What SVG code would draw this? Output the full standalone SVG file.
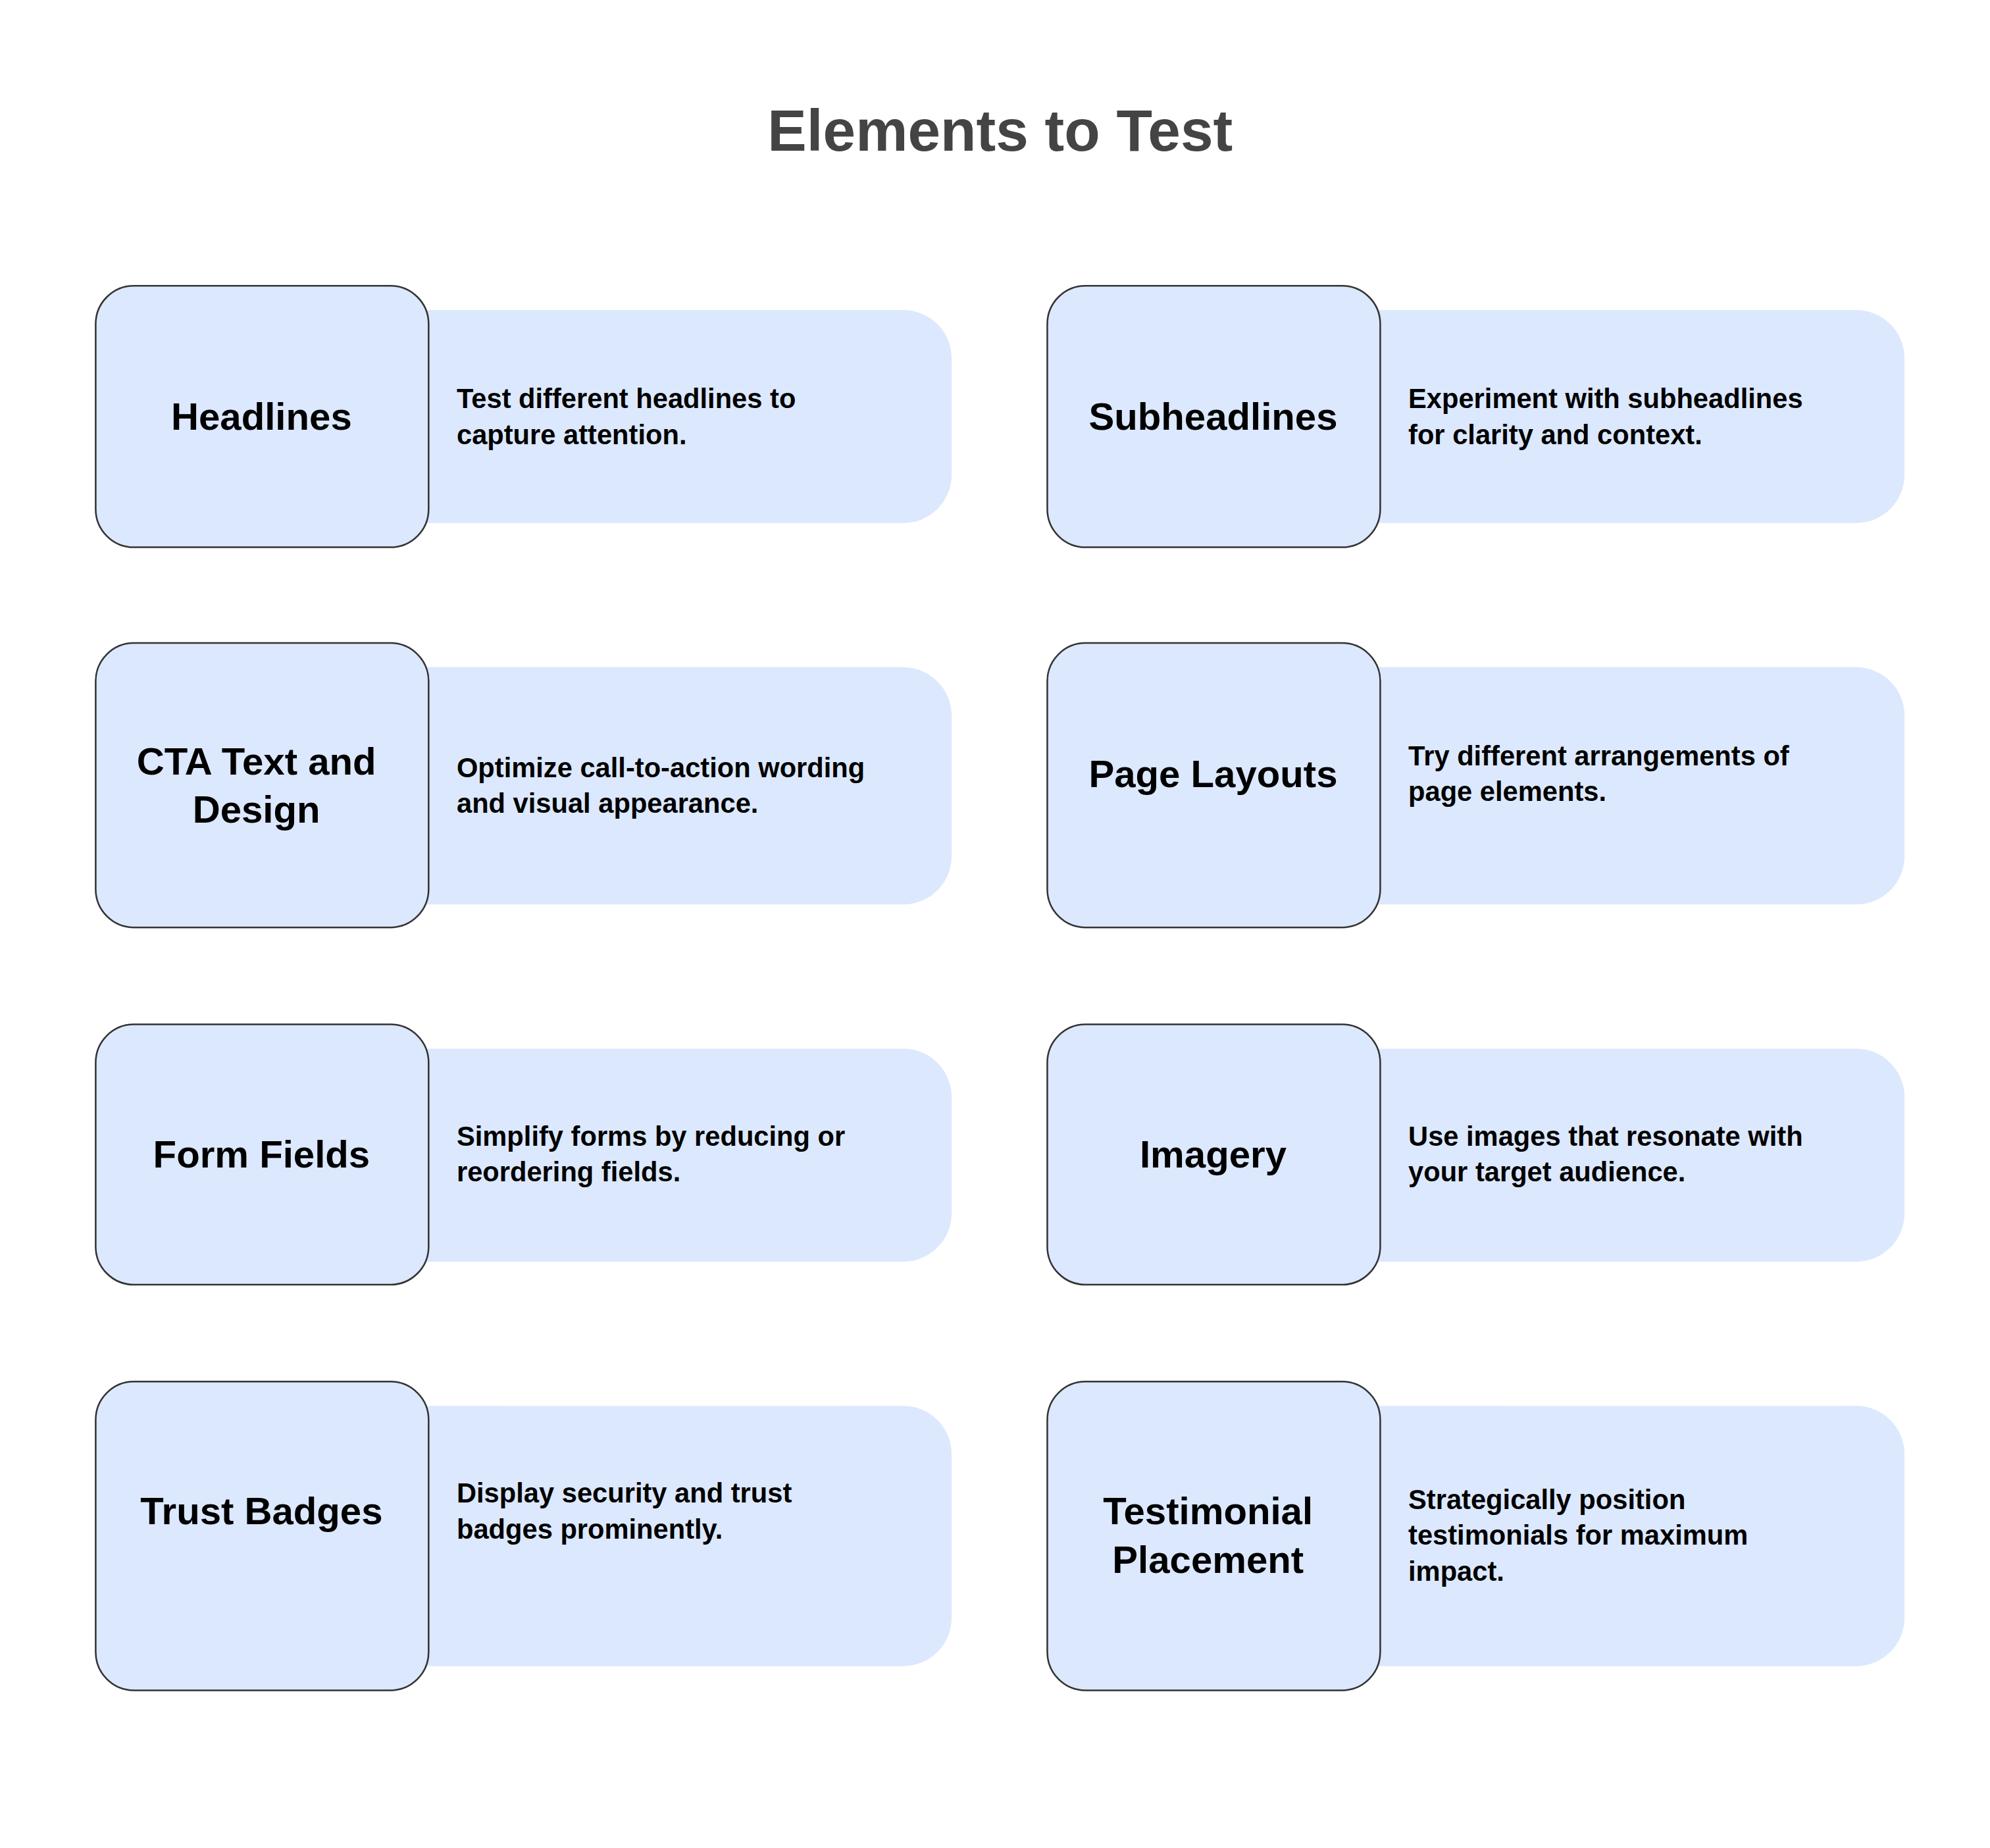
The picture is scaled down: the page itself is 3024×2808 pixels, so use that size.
<svg xmlns="http://www.w3.org/2000/svg" width="3024" height="2808" viewBox="0 0 3024 2808">
<style>
.bg{fill:#dce8fd}
.sq{fill:#dce8fd;stroke:#333;stroke-width:1.3}
.lb{font-family:"Liberation Sans",Arial,sans-serif;font-weight:bold;font-size:30px;fill:#000;text-anchor:middle}
.ds{font-family:"Liberation Sans",Arial,sans-serif;font-weight:bold;font-size:21.5px;fill:#000}
.tt{font-family:"Liberation Sans",Arial,sans-serif;font-weight:bold;font-size:46px;fill:#444;text-anchor:middle}
</style>
<rect width="3024" height="2808" fill="#fff"/>
<g transform="scale(1.93846)">
<text class="tt" x="784" y="118">Elements to Test</text>
<g id="connectors"/>
<g id="n1"><rect class="bg" x="290" y="243" width="456" height="167" rx="38"/><rect class="sq" x="75" y="224" width="261" height="205" rx="30"/><text class="lb" x="205" y="337">Headlines</text><text class="ds" x="358" y="320">Test different headlines to</text><text class="ds" x="358" y="348">capture attention.</text></g>
<g id="n2"><rect class="bg" x="1036" y="243" width="457" height="167" rx="38"/><rect class="sq" x="821" y="224" width="261" height="205" rx="30"/><text class="lb" x="951" y="337">Subheadlines</text><text class="ds" x="1104" y="320">Experiment with subheadlines</text><text class="ds" x="1104" y="348">for clarity and context.</text></g>
<g id="n3"><rect class="bg" x="290" y="523" width="456" height="186" rx="38"/><rect class="sq" x="75" y="504" width="261" height="223" rx="30"/><text class="lb" x="201" y="607">CTA Text and</text><text class="lb" x="201" y="645">Design</text><text class="ds" x="358" y="609">Optimize call-to-action wording</text><text class="ds" x="358" y="637">and visual appearance.</text></g>
<g id="n4"><rect class="bg" x="1036" y="523" width="457" height="186" rx="38"/><rect class="sq" x="821" y="504" width="261" height="223" rx="30"/><text class="lb" x="951" y="617">Page Layouts</text><text class="ds" x="1104" y="600">Try different arrangements of</text><text class="ds" x="1104" y="628">page elements.</text></g>
<g id="n5"><rect class="bg" x="290" y="822" width="456" height="167" rx="38"/><rect class="sq" x="75" y="803" width="261" height="204" rx="30"/><text class="lb" x="205" y="915">Form Fields</text><text class="ds" x="358" y="898">Simplify forms by reducing or</text><text class="ds" x="358" y="926">reordering fields.</text></g>
<g id="n6"><rect class="bg" x="1036" y="822" width="457" height="167" rx="38"/><rect class="sq" x="821" y="803" width="261" height="204" rx="30"/><text class="lb" x="951" y="915">Imagery</text><text class="ds" x="1104" y="898">Use images that resonate with</text><text class="ds" x="1104" y="926">your target audience.</text></g>
<g id="n7"><rect class="bg" x="290" y="1102" width="456" height="204" rx="38"/><rect class="sq" x="75" y="1083" width="261" height="242" rx="30"/><text class="lb" x="205" y="1195">Trust Badges</text><text class="ds" x="358" y="1178">Display security and trust</text><text class="ds" x="358" y="1206">badges prominently.</text></g>
<g id="n8"><rect class="bg" x="1036" y="1102" width="457" height="204" rx="38"/><rect class="sq" x="821" y="1083" width="261" height="242" rx="30"/><text class="lb" x="947" y="1195">Testimonial</text><text class="lb" x="947" y="1233">Placement</text><text class="ds" x="1104" y="1183">Strategically position</text><text class="ds" x="1104" y="1211">testimonials for maximum</text><text class="ds" x="1104" y="1239">impact.</text></g>
</g>
</svg>
